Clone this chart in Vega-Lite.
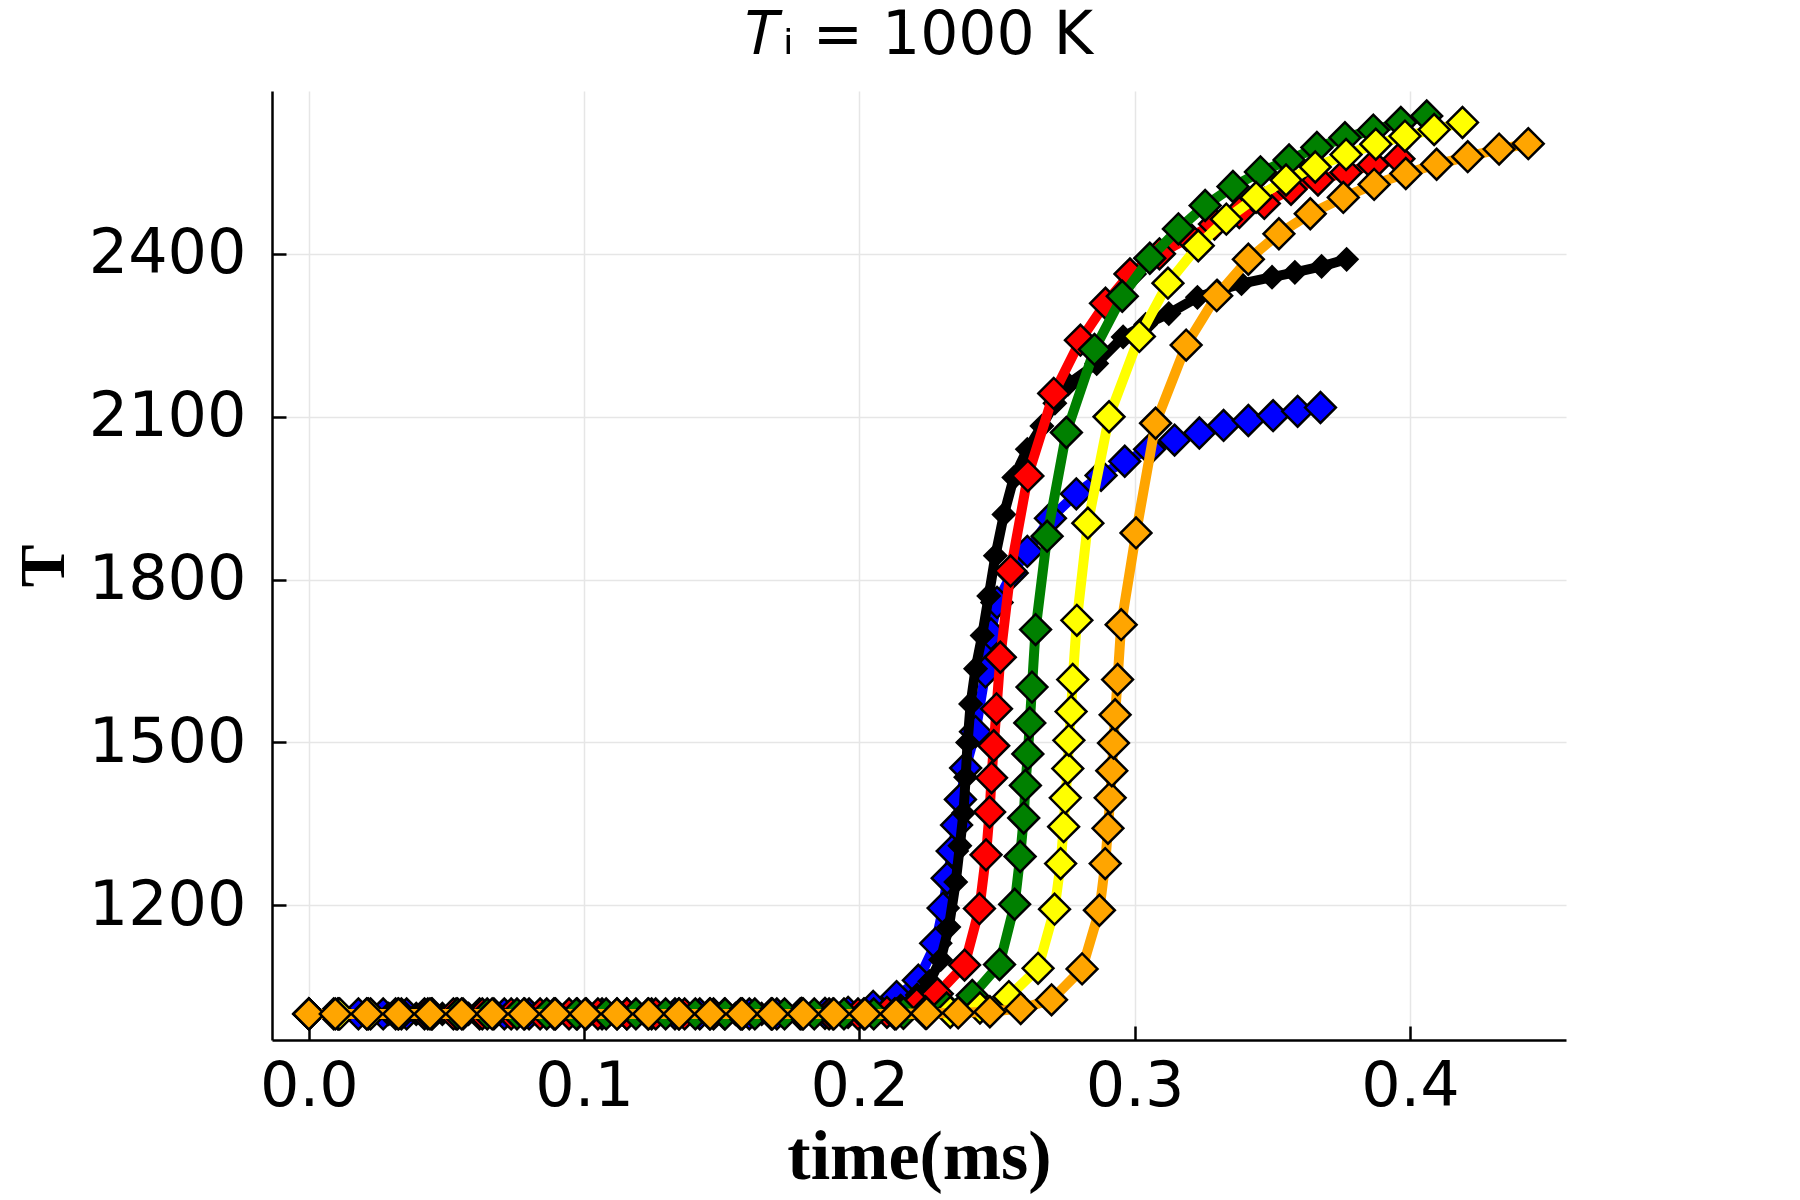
{
  "$schema": "https://vega.github.io/schema/vega-lite/v6.json",
  "width": 1294,
  "height": 949,
  "autosize": {"type": "none"},
  "padding": {"left": 272, "top": 91, "right": 234, "bottom": 160},
  "background": "white",
  "title": {
    "text": "𝑇ᵢ = 1000 K",
    "font": "DejaVu Sans",
    "fontSize": 60,
    "fontWeight": "normal",
    "color": "black",
    "anchor": "middle",
    "frame": "group",
    "offset": 24
  },
  "datasets": {
    "blue": [
      {"time": 0, "temp": 1000}, {"time": 0.009, "temp": 1000}, {"time": 0.018, "temp": 1000}, {"time": 0.027, "temp": 1000},
      {"time": 0.0355, "temp": 1000}, {"time": 0.0445, "temp": 1000}, {"time": 0.0535, "temp": 1000}, {"time": 0.062, "temp": 1000},
      {"time": 0.071, "temp": 1000}, {"time": 0.08, "temp": 1000}, {"time": 0.089, "temp": 1000}, {"time": 0.0975, "temp": 1000},
      {"time": 0.1065, "temp": 1000}, {"time": 0.1155, "temp": 1000}, {"time": 0.1245, "temp": 1000}, {"time": 0.133, "temp": 1000},
      {"time": 0.142, "temp": 1000}, {"time": 0.151, "temp": 1000}, {"time": 0.16, "temp": 1000}, {"time": 0.17, "temp": 1000},
      {"time": 0.179, "temp": 1001}, {"time": 0.1875, "temp": 1001}, {"time": 0.1959, "temp": 1003}, {"time": 0.205, "temp": 1014},
      {"time": 0.2135, "temp": 1032}, {"time": 0.2214, "temp": 1062}, {"time": 0.2277, "temp": 1130}, {"time": 0.2304, "temp": 1195},
      {"time": 0.2319, "temp": 1250}, {"time": 0.2337, "temp": 1300}, {"time": 0.2353, "temp": 1348}, {"time": 0.2367, "temp": 1395},
      {"time": 0.2386, "temp": 1453}, {"time": 0.2422, "temp": 1520}, {"time": 0.2458, "temp": 1630}, {"time": 0.2478, "temp": 1700},
      {"time": 0.25, "temp": 1758}, {"time": 0.2555, "temp": 1812}, {"time": 0.261, "temp": 1852}, {"time": 0.2694, "temp": 1913},
      {"time": 0.2788, "temp": 1958}, {"time": 0.2878, "temp": 1992}, {"time": 0.2964, "temp": 2018}, {"time": 0.3054, "temp": 2040},
      {"time": 0.3145, "temp": 2057}, {"time": 0.3235, "temp": 2070}, {"time": 0.3323, "temp": 2084}, {"time": 0.3413, "temp": 2093},
      {"time": 0.3503, "temp": 2102}, {"time": 0.3592, "temp": 2110}, {"time": 0.3675, "temp": 2117}
    ],
    "black": [
      {"time": 0, "temp": 1000}, {"time": 0.01, "temp": 1000}, {"time": 0.0195, "temp": 1000}, {"time": 0.029, "temp": 1000},
      {"time": 0.039, "temp": 1000}, {"time": 0.0485, "temp": 1000}, {"time": 0.058, "temp": 1000}, {"time": 0.068, "temp": 1000},
      {"time": 0.0775, "temp": 1000}, {"time": 0.087, "temp": 1000}, {"time": 0.097, "temp": 1000}, {"time": 0.1065, "temp": 1000},
      {"time": 0.116, "temp": 1000}, {"time": 0.126, "temp": 1000}, {"time": 0.1355, "temp": 1000}, {"time": 0.145, "temp": 1000},
      {"time": 0.155, "temp": 1000}, {"time": 0.1645, "temp": 1000}, {"time": 0.174, "temp": 1000}, {"time": 0.184, "temp": 1000},
      {"time": 0.1935, "temp": 1000}, {"time": 0.202, "temp": 1002}, {"time": 0.209, "temp": 1006}, {"time": 0.215, "temp": 1015},
      {"time": 0.221, "temp": 1035}, {"time": 0.2255, "temp": 1060}, {"time": 0.2295, "temp": 1100}, {"time": 0.2325, "temp": 1160},
      {"time": 0.235, "temp": 1243}, {"time": 0.2365, "temp": 1310}, {"time": 0.2378, "temp": 1370}, {"time": 0.2386, "temp": 1436},
      {"time": 0.2393, "temp": 1500}, {"time": 0.2404, "temp": 1571}, {"time": 0.2422, "temp": 1636}, {"time": 0.2446, "temp": 1697},
      {"time": 0.247, "temp": 1770}, {"time": 0.2494, "temp": 1844}, {"time": 0.2525, "temp": 1920}, {"time": 0.2561, "temp": 1988},
      {"time": 0.261, "temp": 2040}, {"time": 0.2663, "temp": 2083}, {"time": 0.271, "temp": 2125}, {"time": 0.2758, "temp": 2160},
      {"time": 0.2862, "temp": 2198}, {"time": 0.2958, "temp": 2247}, {"time": 0.304, "temp": 2270}, {"time": 0.3124, "temp": 2290},
      {"time": 0.3228, "temp": 2320}, {"time": 0.33, "temp": 2332}, {"time": 0.3388, "temp": 2345}, {"time": 0.3499, "temp": 2357},
      {"time": 0.3582, "temp": 2366}, {"time": 0.3679, "temp": 2377}, {"time": 0.377, "temp": 2390}
    ],
    "red": [
      {"time": 0, "temp": 1000}, {"time": 0.0105, "temp": 1000}, {"time": 0.021, "temp": 1000}, {"time": 0.0315, "temp": 1000},
      {"time": 0.042, "temp": 1000}, {"time": 0.0525, "temp": 1000}, {"time": 0.063, "temp": 1000}, {"time": 0.0735, "temp": 1000},
      {"time": 0.084, "temp": 1000}, {"time": 0.0945, "temp": 1000}, {"time": 0.105, "temp": 1000}, {"time": 0.1155, "temp": 1000},
      {"time": 0.126, "temp": 1000}, {"time": 0.1365, "temp": 1000}, {"time": 0.147, "temp": 1000}, {"time": 0.1575, "temp": 1000},
      {"time": 0.168, "temp": 1000}, {"time": 0.1785, "temp": 1000}, {"time": 0.189, "temp": 1000}, {"time": 0.1995, "temp": 1000},
      {"time": 0.21, "temp": 1003}, {"time": 0.2208, "temp": 1018}, {"time": 0.2283, "temp": 1037}, {"time": 0.2382, "temp": 1090},
      {"time": 0.2436, "temp": 1194}, {"time": 0.246, "temp": 1293}, {"time": 0.2473, "temp": 1372}, {"time": 0.248, "temp": 1435},
      {"time": 0.2488, "temp": 1494}, {"time": 0.2498, "temp": 1562}, {"time": 0.2512, "temp": 1657}, {"time": 0.2549, "temp": 1816},
      {"time": 0.2612, "temp": 1991}, {"time": 0.2706, "temp": 2143}, {"time": 0.2803, "temp": 2241}, {"time": 0.2894, "temp": 2309},
      {"time": 0.2983, "temp": 2363}, {"time": 0.309, "temp": 2400}, {"time": 0.3198, "temp": 2430}, {"time": 0.329, "temp": 2455},
      {"time": 0.338, "temp": 2476}, {"time": 0.3471, "temp": 2493}, {"time": 0.3568, "temp": 2519}, {"time": 0.3666, "temp": 2536},
      {"time": 0.3768, "temp": 2550}, {"time": 0.3867, "temp": 2564}, {"time": 0.396, "temp": 2575}
    ],
    "green": [
      {"time": 0, "temp": 1000}, {"time": 0.0108, "temp": 1000}, {"time": 0.0216, "temp": 1000}, {"time": 0.0324, "temp": 1000},
      {"time": 0.0432, "temp": 1000}, {"time": 0.054, "temp": 1000}, {"time": 0.0648, "temp": 1000}, {"time": 0.0756, "temp": 1000},
      {"time": 0.0864, "temp": 1000}, {"time": 0.0972, "temp": 1000}, {"time": 0.108, "temp": 1000}, {"time": 0.1188, "temp": 1000},
      {"time": 0.1296, "temp": 1000}, {"time": 0.1404, "temp": 1000}, {"time": 0.1512, "temp": 1000}, {"time": 0.162, "temp": 1000},
      {"time": 0.1728, "temp": 1000}, {"time": 0.1836, "temp": 1000}, {"time": 0.1944, "temp": 1000}, {"time": 0.2052, "temp": 1000},
      {"time": 0.216, "temp": 1001}, {"time": 0.224, "temp": 1004}, {"time": 0.2317, "temp": 1011}, {"time": 0.241, "temp": 1034},
      {"time": 0.2509, "temp": 1091}, {"time": 0.2564, "temp": 1202}, {"time": 0.2584, "temp": 1290}, {"time": 0.2597, "temp": 1361},
      {"time": 0.2603, "temp": 1421}, {"time": 0.2612, "temp": 1479}, {"time": 0.2619, "temp": 1536}, {"time": 0.2627, "temp": 1602},
      {"time": 0.264, "temp": 1708}, {"time": 0.2682, "temp": 1880}, {"time": 0.2752, "temp": 2071}, {"time": 0.2854, "temp": 2224},
      {"time": 0.2955, "temp": 2322}, {"time": 0.3055, "temp": 2392}, {"time": 0.3159, "temp": 2446}, {"time": 0.3256, "temp": 2489},
      {"time": 0.3357, "temp": 2524}, {"time": 0.3457, "temp": 2551}, {"time": 0.3561, "temp": 2573}, {"time": 0.3662, "temp": 2596},
      {"time": 0.3764, "temp": 2614}, {"time": 0.3867, "temp": 2628}, {"time": 0.3967, "temp": 2642}, {"time": 0.4061, "temp": 2654}
    ],
    "yellow": [
      {"time": 0, "temp": 1000}, {"time": 0.0112, "temp": 1000}, {"time": 0.0224, "temp": 1000}, {"time": 0.0336, "temp": 1000},
      {"time": 0.0448, "temp": 1000}, {"time": 0.056, "temp": 1000}, {"time": 0.0672, "temp": 1000}, {"time": 0.0784, "temp": 1000},
      {"time": 0.0896, "temp": 1000}, {"time": 0.1008, "temp": 1000}, {"time": 0.112, "temp": 1000}, {"time": 0.1232, "temp": 1000},
      {"time": 0.1344, "temp": 1000}, {"time": 0.1456, "temp": 1000}, {"time": 0.1568, "temp": 1000}, {"time": 0.168, "temp": 1000},
      {"time": 0.1792, "temp": 1000}, {"time": 0.1904, "temp": 1000}, {"time": 0.2016, "temp": 1000}, {"time": 0.2128, "temp": 1000},
      {"time": 0.224, "temp": 1001}, {"time": 0.233, "temp": 1003}, {"time": 0.2438, "temp": 1011}, {"time": 0.2543, "temp": 1032},
      {"time": 0.2649, "temp": 1084}, {"time": 0.2709, "temp": 1193}, {"time": 0.2731, "temp": 1277}, {"time": 0.2742, "temp": 1345},
      {"time": 0.2748, "temp": 1398}, {"time": 0.2757, "temp": 1452}, {"time": 0.2761, "temp": 1504}, {"time": 0.2769, "temp": 1557},
      {"time": 0.2775, "temp": 1616}, {"time": 0.279, "temp": 1725}, {"time": 0.283, "temp": 1904}, {"time": 0.2907, "temp": 2100},
      {"time": 0.3017, "temp": 2248}, {"time": 0.3121, "temp": 2346}, {"time": 0.3231, "temp": 2415}, {"time": 0.3333, "temp": 2464},
      {"time": 0.3441, "temp": 2504}, {"time": 0.355, "temp": 2536}, {"time": 0.3656, "temp": 2560}, {"time": 0.3768, "temp": 2583},
      {"time": 0.3876, "temp": 2602}, {"time": 0.3982, "temp": 2617}, {"time": 0.4088, "temp": 2629}, {"time": 0.4191, "temp": 2642}
    ],
    "orange": [
      {"time": 0, "temp": 1000}, {"time": 0.0096, "temp": 1000}, {"time": 0.0211, "temp": 1000}, {"time": 0.0326, "temp": 1000},
      {"time": 0.044, "temp": 1000}, {"time": 0.0555, "temp": 1000}, {"time": 0.0666, "temp": 1000}, {"time": 0.0781, "temp": 1000},
      {"time": 0.0894, "temp": 1000}, {"time": 0.1004, "temp": 1000}, {"time": 0.1119, "temp": 1000}, {"time": 0.1234, "temp": 1000},
      {"time": 0.1345, "temp": 1000}, {"time": 0.1458, "temp": 1000}, {"time": 0.1573, "temp": 1000}, {"time": 0.1684, "temp": 1000},
      {"time": 0.1796, "temp": 1000}, {"time": 0.1907, "temp": 1000}, {"time": 0.202, "temp": 1000}, {"time": 0.2133, "temp": 1000},
      {"time": 0.2244, "temp": 1001}, {"time": 0.2359, "temp": 1002}, {"time": 0.2474, "temp": 1004}, {"time": 0.2586, "temp": 1010},
      {"time": 0.2698, "temp": 1026}, {"time": 0.2809, "temp": 1083}, {"time": 0.2872, "temp": 1191}, {"time": 0.2893, "temp": 1277},
      {"time": 0.2903, "temp": 1342}, {"time": 0.2911, "temp": 1398}, {"time": 0.2917, "temp": 1448}, {"time": 0.2923, "temp": 1499},
      {"time": 0.2929, "temp": 1551}, {"time": 0.2938, "temp": 1616}, {"time": 0.2951, "temp": 1717}, {"time": 0.3005, "temp": 1886},
      {"time": 0.3076, "temp": 2088}, {"time": 0.3187, "temp": 2232}, {"time": 0.3298, "temp": 2323}, {"time": 0.3413, "temp": 2390},
      {"time": 0.3524, "temp": 2437}, {"time": 0.3638, "temp": 2474}, {"time": 0.3758, "temp": 2504}, {"time": 0.387, "temp": 2528},
      {"time": 0.3985, "temp": 2548}, {"time": 0.4097, "temp": 2565}, {"time": 0.421, "temp": 2579}, {"time": 0.4324, "temp": 2593},
      {"time": 0.443, "temp": 2603}
    ]
  },
  "encoding": {
    "x": {
      "field": "time",
      "type": "quantitative",
      "scale": {"domain": [-0.0134, 0.4567], "nice": false, "zero": false},
      "axis": {
        "title": "time(ms)",
        "values": [0, 0.1, 0.2, 0.3, 0.4],
        "format": ".1f",
        "labelFlush": false,
        "labelOverlap": false,
        "labelFont": "DejaVu Sans",
        "labelFontSize": 62,
        "labelColor": "black",
        "labelPadding": 30,
        "titleFont": "Liberation Serif",
        "titleFontWeight": "bold",
        "titleFontSize": 70,
        "titleColor": "black",
        "titlePadding": 6,
        "domainColor": "black",
        "domainWidth": 2.5,
        "tickColor": "black",
        "tickWidth": 2.5,
        "tickSize": -14,
        "gridColor": "#e6e6e6",
        "gridWidth": 1.5
      }
    },
    "y": {
      "field": "temp",
      "type": "quantitative",
      "scale": {"domain": [952, 2700], "nice": false, "zero": false},
      "axis": {
        "title": "T",
        "values": [1200, 1500, 1800, 2100, 2400],
        "format": "d",
        "labelOverlap": false,
        "labelFlush": false,
        "labelFont": "DejaVu Sans",
        "labelFontSize": 62,
        "labelColor": "black",
        "labelPadding": 40,
        "titleFont": "Liberation Serif",
        "titleFontWeight": "bold",
        "titleFontSize": 64,
        "titleColor": "black",
        "titlePadding": 12,
        "domainColor": "black",
        "domainWidth": 2.5,
        "tickColor": "black",
        "tickWidth": 2.5,
        "tickSize": -14,
        "gridColor": "#e6e6e6",
        "gridWidth": 1.5
      }
    }
  },
  "layer": [
    {
      "data": {"name": "blue"},
      "layer": [
        {"mark": {"type": "line", "color": "#0000ff", "strokeWidth": 10, "strokeJoin": "round"}},
        {"mark": {"type": "point", "shape": "diamond", "filled": true, "fill": "#0000ff", "stroke": "black", "strokeWidth": 2.5, "size": 950, "opacity": 1}}
      ]
    },
    {
      "data": {"name": "black"},
      "layer": [
        {"mark": {"type": "line", "color": "#000000", "strokeWidth": 10, "strokeJoin": "round"}},
        {"mark": {"type": "point", "shape": "diamond", "filled": true, "fill": "#000000", "stroke": "black", "strokeWidth": 2, "size": 500, "opacity": 1}}
      ]
    },
    {
      "data": {"name": "red"},
      "layer": [
        {"mark": {"type": "line", "color": "#ff0000", "strokeWidth": 10, "strokeJoin": "round"}},
        {"mark": {"type": "point", "shape": "diamond", "filled": true, "fill": "#ff0000", "stroke": "black", "strokeWidth": 2.5, "size": 950, "opacity": 1}}
      ]
    },
    {
      "data": {"name": "green"},
      "layer": [
        {"mark": {"type": "line", "color": "#008000", "strokeWidth": 10, "strokeJoin": "round"}},
        {"mark": {"type": "point", "shape": "diamond", "filled": true, "fill": "#008000", "stroke": "black", "strokeWidth": 2.5, "size": 950, "opacity": 1}}
      ]
    },
    {
      "data": {"name": "yellow"},
      "layer": [
        {"mark": {"type": "line", "color": "#ffff00", "strokeWidth": 10, "strokeJoin": "round"}},
        {"mark": {"type": "point", "shape": "diamond", "filled": true, "fill": "#ffff00", "stroke": "black", "strokeWidth": 2.5, "size": 950, "opacity": 1}}
      ]
    },
    {
      "data": {"name": "orange"},
      "layer": [
        {"mark": {"type": "line", "color": "#ffa500", "strokeWidth": 10, "strokeJoin": "round"}},
        {"mark": {"type": "point", "shape": "diamond", "filled": true, "fill": "#ffa500", "stroke": "black", "strokeWidth": 2.5, "size": 950, "opacity": 1}}
      ]
    }
  ],
  "config": {
    "view": {"stroke": null},
    "axis": {"grid": true}
  }
}
